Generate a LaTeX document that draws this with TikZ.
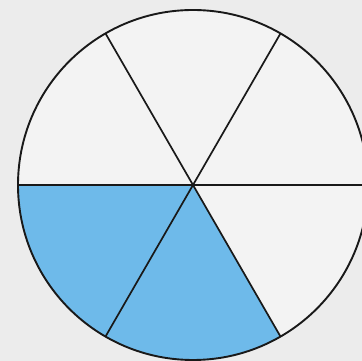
\documentclass[tikz,border=0pt]{standalone}
\usetikzlibrary{calc}
\definecolor{paper}{RGB}{236,236,236}
\definecolor{disc}{RGB}{243,243,243}
\definecolor{shade}{RGB}{110,186,234}
\tikzset{
  rim/.style   ={draw=black!90, line width=1.9pt},
  spoke/.style ={draw=black!90, line width=1.7pt},
  part/.style  ={fill=shade},
}

\begin{document}
\begin{tikzpicture}[x=1pt, y=1pt]
  \useasboundingbox (0,0) rectangle (362,361);
  \clip (0,0) rectangle (362,361);
  \fill[paper] (0,0) rectangle (362,361);

  \coordinate (c) at (193,176);
  \fill[disc] (c) circle[radius=175];

  % two shaded sixths
  \fill[part] (c) -- ($(c)+(180:175)$) arc[start angle=180, end angle=300, radius=175] -- cycle;

  % spokes
  \foreach \a in {0,60,120}
    \draw[spoke] ($(c)+(\a:175)$) -- ($(c)+(\a+180:175)$);

  \draw[rim] (c) circle[radius=175];
\end{tikzpicture}
\end{document}
